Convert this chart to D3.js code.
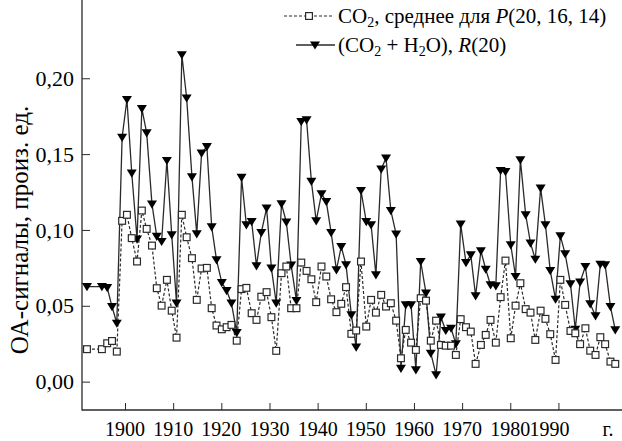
<!DOCTYPE html>
<html><head><meta charset="utf-8">
<script src="https://cdn.jsdelivr.net/npm/d3@7"></script>
<style>
body{margin:0;background:#fff}
svg{display:block}
text{font-family:"Liberation Serif","Times New Roman",serif;fill:#000}
</style>
</head><body>
<svg id="c" width="622" height="441"></svg>
<script>
// x positions (years)
const years = [1892.1, 1895.2, 1896.3, 1897.3, 1898.3, 1899.4, 1900.4, 1901.4, 1902.5, 1903.5, 1904.5, 1905.6, 1906.6, 1907.6, 1908.7, 1909.7, 1910.7, 1911.8, 1912.8, 1913.9, 1914.9, 1915.9, 1917.0, 1918.0, 1919.0, 1920.1, 1921.1, 1922.1, 1923.2, 1924.2, 1925.2, 1926.3, 1927.3, 1928.3, 1929.4, 1930.4, 1931.4, 1932.5, 1933.5, 1934.5, 1935.6, 1936.6, 1937.7, 1938.7, 1939.7, 1940.8, 1941.8, 1942.8, 1943.9, 1944.9, 1945.9, 1947.0, 1948.0, 1949.0, 1950.1, 1951.1, 1952.1, 1953.2, 1954.2, 1955.2, 1956.3, 1957.3, 1958.3, 1959.4, 1960.4, 1961.4, 1962.5, 1963.5, 1964.6, 1965.6, 1966.6, 1967.7, 1968.7, 1969.7, 1970.8, 1971.8, 1972.8, 1973.9, 1974.9, 1975.9, 1977.0, 1978.0, 1979.0, 1980.1, 1981.1, 1982.1, 1983.2, 1984.2, 1985.2, 1986.3, 1987.3, 1988.3, 1989.4, 1990.4, 1991.4, 1992.5, 1993.5, 1994.5, 1995.6, 1996.6, 1997.7, 1998.7, 1999.7, 2000.8, 2001.8];

// CO2, mean for P(20,16,14)  (open squares, dashed)
const co2 = [0.0214, 0.0214, 0.0253, 0.0268, 0.0198, 0.106, 0.110, 0.0946, 0.0792, 0.1128, 0.1007, 0.0897, 0.0616, 0.0501, 0.0671, 0.0468, 0.029, 0.110, 0.0952, 0.0814, 0.0539, 0.0746, 0.075, 0.0484, 0.037, 0.0345, 0.0359, 0.0374, 0.027, 0.061, 0.0618, 0.0451, 0.0407, 0.056, 0.059, 0.0425, 0.0203, 0.0715, 0.0759, 0.0484, 0.0484, 0.0785, 0.073, 0.0675, 0.0524, 0.0759, 0.0693, 0.0543, 0.0458, 0.0513, 0.0623, 0.0315, 0.0337, 0.0792, 0.0363, 0.0539, 0.0455, 0.0572, 0.0495, 0.0517, 0.0402, 0.0154, 0.0341, 0.0257, 0.0209, 0.055, 0.0534, 0.027, 0.0402, 0.0242, 0.0237, 0.0237, 0.0176, 0.0412, 0.0359, 0.033, 0.0117, 0.0242, 0.0308, 0.0407, 0.0257, 0.0557, 0.0798, 0.0286, 0.0501, 0.0649, 0.0478, 0.0455, 0.0275, 0.0468, 0.0414, 0.0313, 0.0143, 0.0671, 0.0506, 0.0334, 0.0319, 0.0247, 0.0352, 0.0204, 0.0176, 0.0293, 0.0247, 0.0132, 0.0117];

// (CO2 + H2O), R(20)  (filled down triangles, solid)
const co2h2o = [0.0627, 0.0627, 0.0620, 0.0495, 0.0385, 0.161, 0.186, 0.1375, 0.094, 0.180, 0.164, 0.117, 0.0957, 0.0924, 0.1458, 0.0968, 0.0517, 0.2155, 0.187, 0.135, 0.0974, 0.1506, 0.155, 0.102, 0.0803, 0.0653, 0.060, 0.0517, 0.0323, 0.1346, 0.1034, 0.1055, 0.0763, 0.0983, 0.1144, 0.0748, 0.0517, 0.1172, 0.1051, 0.0768, 0.0534, 0.1715, 0.1726, 0.132, 0.106, 0.1238, 0.1187, 0.0983, 0.0737, 0.089, 0.077, 0.044, 0.0227, 0.126, 0.1055, 0.1034, 0.0704, 0.1401, 0.1474, 0.1128, 0.0972, 0.0088, 0.0506, 0.0506, 0.0077, 0.0792, 0.0583, 0.0187, 0.0044, 0.0425, 0.0337, 0.0352, 0.0249, 0.1038, 0.0785, 0.0836, 0.0565, 0.0862, 0.0741, 0.0638, 0.0631, 0.1392, 0.1385, 0.0902, 0.0693, 0.1462, 0.110, 0.0913, 0.0807, 0.1276, 0.1034, 0.0732, 0.0543, 0.0961, 0.0842, 0.0644, 0.0345, 0.0656, 0.0759, 0.0513, 0.0433, 0.0774, 0.077, 0.0495, 0.0341];

const xTickLabels = [1900, 1910, 1920, 1930, 1940, 1950, 1960, 1970, 1980, 1990];
const yTickLabels = [0.00, 0.05, 0.10, 0.15, 0.20];
const xUnit = "г.";
const yTitle = "ОА-сигналы, произ. ед.";

const svg = d3.select("#c");
const X0 = 82, X1 = 622, Y0 = 410, Y1 = 0;
const x = d3.scaleLinear().domain([1891.07, 2003.2]).range([X0, X1]);
const y = d3.scaleLinear().domain([-0.0187, 0.2516]).range([Y0, Y1]);
const ink = "#2a2a2a";

// axes
const yMajor = d3.axisRight(y).tickValues(yTickLabels).tickSize(8).tickFormat("");
const yMinor = d3.axisRight(y).tickValues(d3.range(-1, 26).map(i => i / 100)).tickSize(4).tickFormat("");
const gy = svg.append("g").attr("transform", `translate(${X0},0)`);
gy.call(yMinor); gy.call(yMajor);
const xMajor = d3.axisTop(x).tickValues(xTickLabels).tickSize(7).tickFormat("");
const xMinor = d3.axisTop(x).tickValues(d3.range(1892, 2004)).tickSize(3).tickFormat("");
const gx = svg.append("g").attr("transform", `translate(0,${Y0})`);
gx.call(xMinor); gx.call(xMajor);
svg.selectAll(".tick line").attr("stroke", ink).attr("stroke-width", 1);
svg.selectAll(".domain").remove();
svg.append("line").attr("x1", X0).attr("x2", X0).attr("y1", Y1).attr("y2", Y0 + 0.6).attr("stroke", ink).attr("stroke-width", 1.3);
svg.append("line").attr("x1", X0).attr("x2", X1).attr("y1", Y0).attr("y2", Y0).attr("stroke", ink).attr("stroke-width", 1.3);

// tick labels
svg.append("g").selectAll("text").data(yTickLabels).join("text")
  .attr("x", X0 - 8).attr("y", d => y(d)).attr("dy", "0.35em")
  .attr("text-anchor", "end").attr("font-size", 22)
  .text(d => d3.format(".2f")(d).replace(".", ","));
svg.append("g").selectAll("text").data(xTickLabels).join("text")
  .attr("x", d => x(d) - (d === 1990 ? 9 : 0)).attr("y", 436)
  .attr("text-anchor", "middle").attr("font-size", 20)
  .text(d => d);
svg.append("text").attr("x", 608).attr("y", 436).attr("text-anchor", "middle").attr("font-size", 20).text(xUnit);
svg.append("text").attr("transform", "translate(28,230) rotate(-90)")
  .attr("text-anchor", "middle").attr("font-size", 25).text(yTitle);

// lines
const pts1 = years.map((d, i) => [d, co2[i]]);
const pts2 = years.map((d, i) => [d, co2h2o[i]]);
const line = d3.line().x(d => x(d[0])).y(d => y(d[1]));
svg.append("path").attr("d", line(pts1)).attr("fill", "none").attr("stroke", ink)
  .attr("stroke-width", 1.2).attr("stroke-dasharray", "3,2");
svg.append("path").attr("d", line(pts2)).attr("fill", "none").attr("stroke", ink)
  .attr("stroke-width", 1.3);

const tri = "M-5,-3.6L5,-3.6L0,4.6Z";
svg.append("g").selectAll("path").data(pts2).join("path")
  .attr("d", tri).attr("transform", d => `translate(${x(d[0])},${y(d[1])})`)
  .attr("fill", "#000");
svg.append("g").selectAll("rect").data(pts1).join("rect")
  .attr("x", d => x(d[0]) - 3.4).attr("y", d => y(d[1]) - 3.4)
  .attr("width", 6.8).attr("height", 6.8)
  .attr("fill", "#fff").attr("stroke", ink).attr("stroke-width", 1.2);

// legend
const lg = svg.append("g");
const L1 = 16, L2 = 45, tx = 338;
lg.append("line").attr("x1", 284).attr("x2", 334).attr("y1", L1).attr("y2", L1)
  .attr("stroke", ink).attr("stroke-width", 1.2).attr("stroke-dasharray", "3,2");
lg.append("rect").attr("x", 309 - 3.4).attr("y", L1 - 3.4).attr("width", 6.8).attr("height", 6.8)
  .attr("fill", "#fff").attr("stroke", ink).attr("stroke-width", 1.2);
lg.append("line").attr("x1", 296).attr("x2", 335).attr("y1", L2).attr("y2", L2)
  .attr("stroke", ink).attr("stroke-width", 1.3);
lg.append("path").attr("d", tri).attr("transform", `translate(315,${L2})`).attr("fill", "#000");

const t1 = lg.append("text").attr("x", tx).attr("y", L1 + 7).attr("font-size", 21);
t1.append("tspan").text("CO");
t1.append("tspan").attr("font-size", 14).attr("dy", 4).text("2");
t1.append("tspan").attr("dy", -4).text(", среднее для ");
t1.append("tspan").attr("font-style", "italic").text("P");
t1.append("tspan").text("(20, 16, 14)");

const t2 = lg.append("text").attr("x", tx).attr("y", L2 + 7).attr("font-size", 21);
t2.append("tspan").text("(CO");
t2.append("tspan").attr("font-size", 14).attr("dy", 4).text("2");
t2.append("tspan").attr("dy", -4).text(" + H");
t2.append("tspan").attr("font-size", 14).attr("dy", 4).text("2");
t2.append("tspan").attr("dy", -4).text("O), ");
t2.append("tspan").attr("font-style", "italic").text("R");
t2.append("tspan").text("(20)");
</script>
</body></html>
